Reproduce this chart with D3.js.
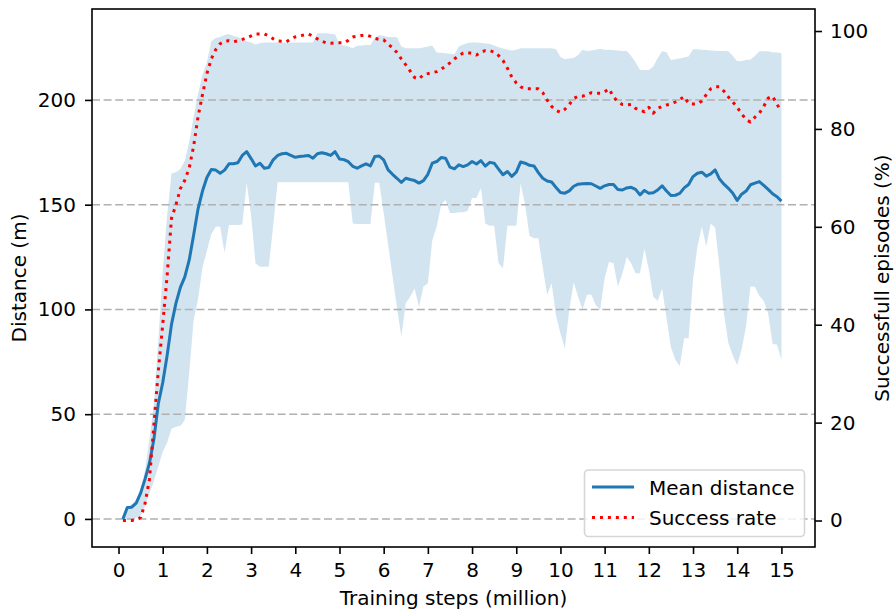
<!DOCTYPE html>
<html>
<head>
<meta charset="utf-8">
<script src="https://cdn.jsdelivr.net/npm/d3@7/dist/d3.min.js"></script>
<style>
  html, body { margin: 0; padding: 0; background: #fff; }
  svg { display: block; font-family: "DejaVu Sans", sans-serif; }
</style>
</head>
<body>
<svg id="chart" width="895" height="611"></svg>
<script>
// Training progress: mean distance (with min/max band) and success rate
const steps = [
  0.1,0.2,0.3,0.4,0.5,0.6,0.7,0.8,0.9,1.0,
  1.1,1.2,1.3,1.4,1.5,1.6,1.7,1.8,1.9,2.0,
  2.1,2.2,2.3,2.4,2.5,2.6,2.7,2.8,2.9,3.0,
  3.1,3.2,3.3,3.4,3.5,3.6,3.7,3.8,3.9,4.0,
  4.1,4.2,4.3,4.4,4.5,4.6,4.7,4.8,4.9,5.0,
  5.1,5.2,5.3,5.4,5.5,5.6,5.7,5.8,5.9,6.0,
  6.1,6.2,6.3,6.4,6.5,6.6,6.7,6.8,6.9,7.0,
  7.1,7.2,7.3,7.4,7.5,7.6,7.7,7.8,7.9,8.0,
  8.1,8.2,8.3,8.4,8.5,8.6,8.7,8.8,8.9,9.0,
  9.1,9.2,9.3,9.4,9.5,9.6,9.7,9.8,9.9,10.0,
  10.1,10.2,10.3,10.4,10.5,10.6,10.7,10.8,10.9,11.0,
  11.1,11.2,11.3,11.4,11.5,11.6,11.7,11.8,11.9,12.0,
  12.1,12.2,12.3,12.4,12.5,12.6,12.7,12.8,12.9,13.0,
  13.1,13.2,13.3,13.4,13.5,13.6,13.7,13.8,13.9,14.0,
  14.1,14.2,14.3,14.4,14.5,14.6,14.7,14.8,14.9,15.0
];

const meanDistance = [
  0,5.5,5.6,7.5,12.3,19,26.6,38,55,65,
  78,93,103,110.5,115.5,123.6,135.5,148,156.5,163,
  166.8,166.5,165,166.5,169.5,169.5,170,173.5,175.3,172,
  168.5,169.8,167.4,167.7,171.4,173.5,174.3,174.5,173.5,172.6,
  173,173.2,173.5,172.2,174.3,174.8,174.3,173.5,175.3,171.8,
  171.5,170.5,168.3,167.4,168.5,169.5,168.5,173,173.2,171.4,
  166.6,164.5,162.6,160.6,162.6,162,161.5,160.3,161.5,164.5,
  169.8,170.6,172.5,172.2,167.9,167.1,169,168.2,169,170.6,
  169.4,171,168.4,170.2,169.8,167,164.3,165.8,163.5,165.5,
  170.4,169.8,168.8,168.5,165.3,162.6,161.3,160.8,158.2,155.8,
  155.5,156.6,158.8,159.8,160,160.1,160,158.9,157.8,159,
  159.6,159.6,157.2,157,158,158.3,157.3,154.7,156.8,155.5,
  155.7,157,159,156.5,154.4,154.5,155.4,158,159.6,163.4,
  165,165.5,163.6,164.7,166.6,162.2,159.8,157.8,155.5,152,
  155,156.5,159.5,160.3,161,159.2,157.3,155.2,153.8,151.7
];

const distanceUpper = [
  0,6,7,9,14,23,38,55,85,118,
  145,165,165.5,167,171,180,192,203,212,218,
  228,229.5,230,231,231.5,230.5,230,229,228,227.4,
  226.5,227,227.4,227.4,227.4,227.4,227.4,227.4,227.4,227.4,
  227.4,227.4,227.4,227.4,231.8,231.8,231.8,231.6,231.4,226.5,
  226,225.5,224.7,225.8,226,226.2,226.2,229.5,231,230.5,
  230,230,229.9,225.5,224.7,224.7,224.7,224.7,225,225.5,
  226,222.6,222.5,222.3,222,221.8,225.5,226.5,227.2,227.4,
  227.4,227.2,227,226.7,226,225.2,224.5,224,223.6,224,
  224.7,224.7,224.7,224.7,224.7,224.7,224.7,224.7,224.2,220.5,
  219.4,219.8,220,221.5,224,223.4,223.6,224,224.4,224,
  224,223.8,223.6,223.4,223.4,221,218,214.3,214.3,214.3,
  216,220,223.2,222.7,219,219.4,219.8,220.3,220.7,224.2,
  224.2,224,223.8,223.6,223.5,223.4,223.3,223.2,221,218.5,
  218.6,219,219.3,221,223.2,223.2,223.2,222.8,222.6,222.4
];

const distanceLower = [
  0,0,0,0.5,1.5,6,12,18,25,32,
  36.5,43,44,44.5,47.2,70,95,105,120,128,
  136,139.5,139.5,127,140.3,140.3,140.3,140.5,160.3,145,
  122,120.4,120.4,120.4,140,160.7,160.7,160.7,160.7,160.7,
  160.7,160.7,160.7,160.7,160.7,160.7,160.7,160.7,160.7,160.7,
  160.7,160.7,141,140.8,140.8,140.8,140.8,160.5,160.5,146,
  131,116,101,87,103,106,110,101,111,112.5,
  133,139.5,150,152.2,146,146,146.4,146.4,147,153.2,
  153.2,158,141,139.9,139.9,122,119.7,139.9,139.9,139.9,
  160,150,135,134,134,120,107,112.5,97,88.5,
  81.5,100,113,106,100,107,107,102,100,115,
  122.8,122,111,117,125,122,117.3,117.3,129,119,
  106,104,110,96,82,76,73,86.2,86.2,114,
  130,139.5,130,141,139,120,98,84,78,73.5,
  81,92,110.9,110.8,106.5,104,98,83.5,83.3,76
];

const successRate = [
  0,0,0,0.2,0.6,3.5,8.4,19.5,30.5,40,
  50,61.8,64.5,67.8,69.5,72,76.5,82.5,87,91.3,
  94.3,96.2,97.4,97.9,98,97.8,98,98.3,98.6,99,
  99.4,99.4,99.4,99,98.4,98,97.9,97.8,98.4,98.8,
  99,99.2,99.4,98.9,98.4,97.9,97.6,97.5,97.6,97.6,
  97.6,98.1,98.8,98.9,99.1,99.2,98.9,98.5,98.3,98.2,
  97.3,96.6,95.6,94.3,93.1,91.8,90.5,90.2,91.1,91.3,
  91.5,91.7,92.2,92.8,93.5,94.3,95,95.5,95.6,95.4,
  95.1,95.7,96,96,95.7,95,94,92.4,90.6,89.4,
  88.6,88.2,88.2,88.2,88.2,87.4,85.9,84.6,83.8,83.4,
  84,85,86.2,86.7,86.7,87,87.4,87.3,87.3,87.6,
  88.2,86.5,85.6,85,84.9,85,84.2,83.8,83.5,84.4,
  83.2,84.2,84.6,84.9,85.1,85.5,86,86.6,85.2,85.1,
  85.1,85.7,87,88.2,88.6,88.6,87.7,86.5,85.5,84.4,
  83.1,81.9,81.4,82.4,83.2,84.6,86.3,86.7,85,83.6
];

const xTicks = [0,1,2,3,4,5,6,7,8,9,10,11,12,13,14,15];
const distanceTicks = [0,50,100,150,200];
const successTicks = [0,20,40,60,80,100];
const legendLabels = ["Mean distance", "Success rate"];

const blue = "#1f77b4";
const red = "#ff0000";

const plot = { left: 92, right: 815, top: 9, bottom: 547 };

const svg = d3.select("#chart");

const x = d3.scaleLinear().domain([-0.6, 15.76]).range([plot.left, plot.right]);
const yL = d3.scaleLinear().domain([-13.4, 243.4]).range([plot.bottom, plot.top]);
const yR = d3.scaleLinear().domain([-5.41, 104.5]).range([plot.bottom, plot.top]);

const rows = steps.map((s, i) => ({
  s, mean: meanDistance[i], lo: distanceLower[i], hi: distanceUpper[i], rate: successRate[i]
}));

// min/max band
svg.append("path")
  .datum(rows)
  .attr("fill", blue)
  .attr("fill-opacity", 0.2)
  .attr("d", d3.area().x(d => x(d.s)).y0(d => yL(d.lo)).y1(d => yL(d.hi)));

// horizontal grid on the distance axis
svg.append("g")
  .selectAll("line")
  .data(distanceTicks)
  .join("line")
  .attr("x1", plot.left).attr("x2", plot.right)
  .attr("y1", d => yL(d)).attr("y2", d => yL(d))
  .attr("stroke", "#b0b0b0")
  .attr("stroke-width", 1.5)
  .attr("stroke-dasharray", "8,3.6");

// mean distance line
svg.append("path")
  .datum(rows)
  .attr("fill", "none")
  .attr("stroke", blue)
  .attr("stroke-width", 3)
  .attr("stroke-linejoin", "round")
  .attr("d", d3.line().x(d => x(d.s)).y(d => yL(d.mean)));

// success rate line (right axis)
svg.append("path")
  .datum(rows)
  .attr("fill", "none")
  .attr("stroke", red)
  .attr("stroke-width", 3)
  .attr("stroke-dasharray", "3,4.95")
  .attr("stroke-linejoin", "round")
  .attr("d", d3.line().x(d => x(d.s)).y(d => yR(d.rate)));

// frame
svg.append("rect")
  .attr("x", plot.left).attr("y", plot.top)
  .attr("width", plot.right - plot.left).attr("height", plot.bottom - plot.top)
  .attr("fill", "none").attr("stroke", "#000").attr("stroke-width", 1.6);

function styleAxis(g) {
  g.select(".domain").remove();
  g.selectAll(".tick line").attr("stroke", "#000").attr("stroke-width", 1.6);
  g.selectAll(".tick text").attr("fill", "#000").style("font-size", "20px")
    .style("font-family", "DejaVu Sans, sans-serif");
}

svg.append("g")
  .attr("transform", `translate(0,${plot.bottom})`)
  .call(d3.axisBottom(x).tickValues(xTicks).tickSize(7).tickPadding(9).tickFormat(d3.format("d")))
  .call(styleAxis);

svg.append("g")
  .attr("transform", `translate(${plot.left},0)`)
  .call(d3.axisLeft(yL).tickValues(distanceTicks).tickSize(7).tickPadding(9).tickFormat(d3.format("d")))
  .call(styleAxis);

svg.append("g")
  .attr("transform", `translate(${plot.right},0)`)
  .call(d3.axisRight(yR).tickValues(successTicks).tickSize(7).tickPadding(8).tickFormat(d3.format("d")))
  .call(styleAxis);

// axis titles
svg.append("text")
  .attr("x", (plot.left + plot.right) / 2).attr("y", 605)
  .attr("text-anchor", "middle").style("font-size", "20px")
  .text("Training steps (million)");

svg.append("text")
  .attr("transform", `translate(26,${(plot.top + plot.bottom) / 2}) rotate(-90)`)
  .attr("text-anchor", "middle").style("font-size", "20px")
  .text("Distance (m)");

svg.append("text")
  .attr("transform", `translate(889,${(plot.top + plot.bottom) / 2}) rotate(-90)`)
  .attr("text-anchor", "middle").style("font-size", "20px")
  .text("Successfull episodes (%)");

// legend
const lg = svg.append("g");
lg.append("rect")
  .attr("x", 584.5).attr("y", 470).attr("width", 220).attr("height", 66.5)
  .attr("rx", 4).attr("ry", 4)
  .attr("fill", "#fff").attr("fill-opacity", 0.8)
  .attr("stroke", "#d6d6d6").attr("stroke-width", 1.6);

const legendStyles = [
  { color: blue, dash: null, y: 487 },
  { color: red, dash: "3,4.95", y: 517.5 }
];
legendLabels.forEach((label, i) => {
  const st = legendStyles[i];
  lg.append("line")
    .attr("x1", 592).attr("x2", 634).attr("y1", st.y).attr("y2", st.y)
    .attr("stroke", st.color).attr("stroke-width", 3)
    .attr("stroke-dasharray", st.dash);
  lg.append("text")
    .attr("x", 649).attr("y", st.y + 7.5)
    .style("font-size", "20px")
    .text(label);
});
</script>
</body>
</html>
